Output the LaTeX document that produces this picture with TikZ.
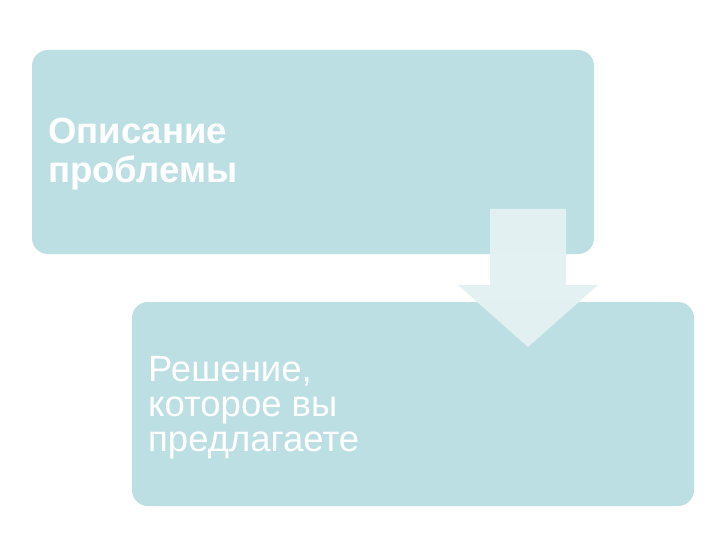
\documentclass[tikz,border=0pt]{standalone}
\usepackage{fontspec}
\setmainfont{Liberation Sans}
\definecolor{boxfill}{HTML}{BCDFE3}
\definecolor{arrowfill}{HTML}{E4F1F3}
\begin{document}
\begin{tikzpicture}[x=1pt,y=-1pt,
  panel/.style={fill=boxfill, draw=none, rounded corners=16pt},
  paneltext/.style={anchor=base west, align=left, text=white, inner sep=0pt},
  downarrow/.style={fill=arrowfill, draw=none, fill opacity=0.97}]
\useasboundingbox (0,0) rectangle (720,540);
\fill[white] (0,0) rectangle (720,540);
\path[panel] (32,50) rectangle (594,254);
\node[paneltext, font={\fontsize{36.5}{39.5}\selectfont\bfseries}] (t1) at (48,183) {Описание\\проблемы};
\path[panel] (132,302) rectangle (694,506);
\node[paneltext, font={\fontsize{36.5}{35}\selectfont}] (t2) at (148,451) {Решение,\\которое вы\\предлагаете};
\path[downarrow] (490,209) -- (566,209) -- (566,285) -- (598,285) -- (528,347) -- (458,285) -- (490,285) -- cycle;
\end{tikzpicture}
\end{document}
